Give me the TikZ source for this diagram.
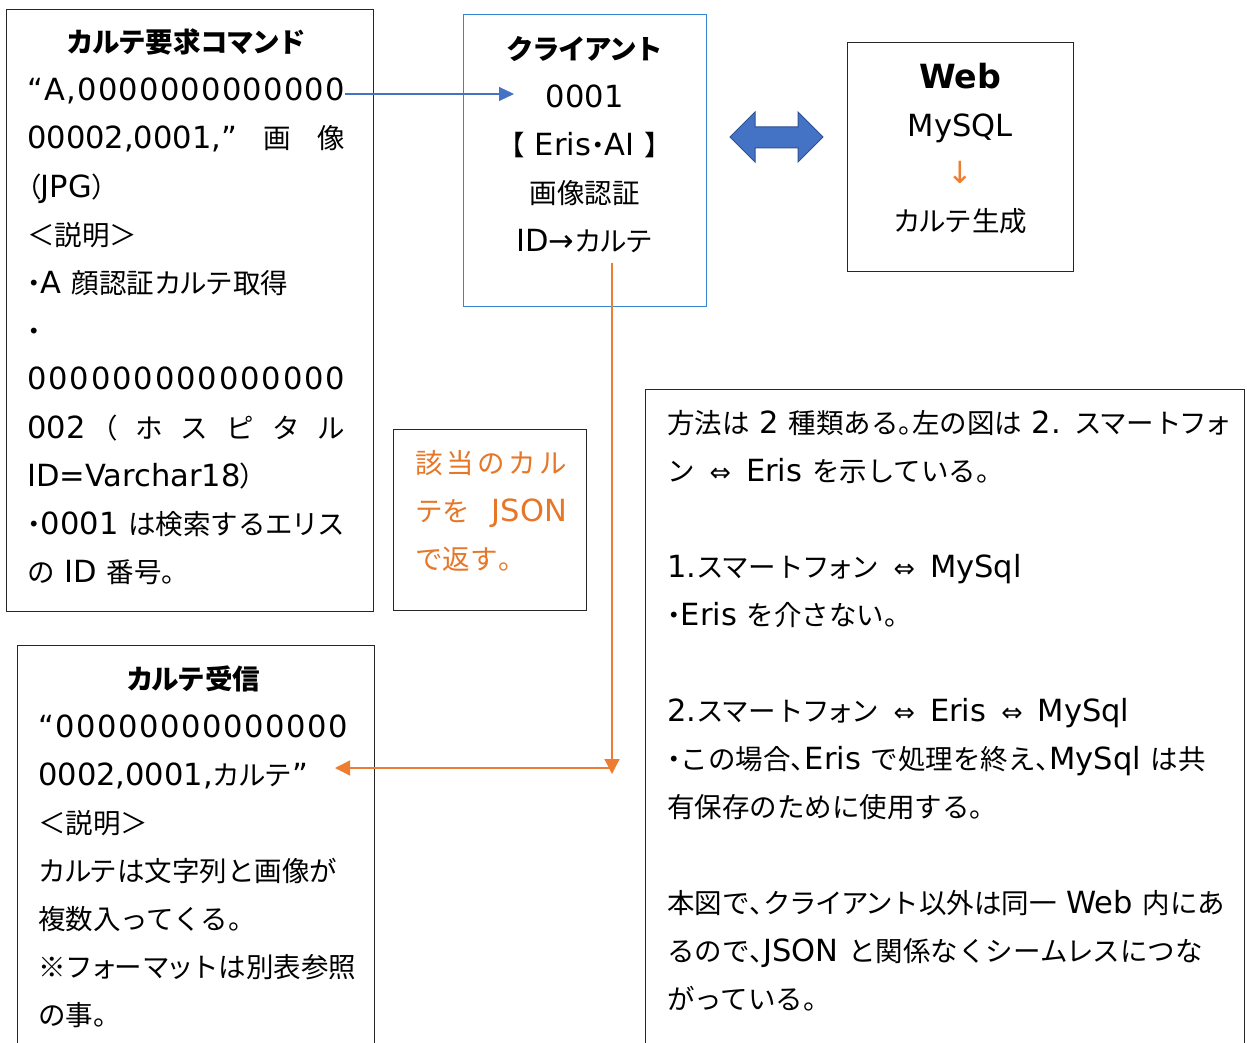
\documentclass[tikz,border=0pt]{standalone}
\usepackage{fontspec}
\setmainfont{DejaVu Sans}[Scale=1.11]
\newfontfamily\laf{DejaVu Sans}[Scale=1.11]
\newfontfamily\jpf{Noto Sans CJK JP}
\newfontfamily\jphf{Noto Sans CJK JP}[RawFeature=+palt]
\newfontfamily\jpkf{Noto Sans CJK JP}[LetterSpace=-6]
\usetikzlibrary{arrows.meta}

\definecolor{cblue}{RGB}{52,132,210}
\definecolor{ablue}{RGB}{68,114,196}
\definecolor{adark}{RGB}{47,82,143}
\definecolor{orng}{RGB}{237,125,49}
\definecolor{otext}{RGB}{230,118,40}

% --- automatic font switching between Latin and Japanese ---
\newXeTeXintercharclass\cjkcls
\newXeTeXintercharclass\hlfcls
\newXeTeXintercharclass\kancls
\newcount\cc
\cc="3000
\loop \XeTeXcharclass\cc=\cjkcls \advance\cc 1 \ifnum\cc<"A000 \repeat
\cc="FF00
\loop \XeTeXcharclass\cc=\cjkcls \advance\cc 1 \ifnum\cc<"FFF0 \repeat
\cc="30A1
\loop \XeTeXcharclass\cc=\kancls \advance\cc 1 \ifnum\cc<"30FB \repeat
\XeTeXcharclass"203B=\cjkcls
\XeTeXcharclass"3001=\hlfcls
\XeTeXcharclass"3002=\hlfcls
\XeTeXcharclass"30FB=\hlfcls
\XeTeXcharclass"FF08=\hlfcls
\XeTeXcharclass"FF09=\hlfcls
\XeTeXcharclass"30A1=\hlfcls
\XeTeXcharclass"30A3=\hlfcls
\XeTeXcharclass"30A5=\hlfcls
\XeTeXcharclass"30A7=\hlfcls
\XeTeXcharclass"30A9=\hlfcls
\XeTeXcharclass"30C3=\hlfcls
\XeTeXcharclass"30E3=\hlfcls
\XeTeXcharclass"30E5=\hlfcls
\XeTeXcharclass"30E7=\hlfcls
\XeTeXcharclass"201C=0
\XeTeXcharclass"201D=0
\XeTeXcharclass"2018=0
\XeTeXcharclass"2019=0
\XeTeXcharclass"00B7=0
\XeTeXcharclass"2192=0
\XeTeXcharclass"2193=0
\XeTeXcharclass"21D4=0
% into CJK
\XeTeXinterchartoks 0 \cjkcls = {\jpf}
\XeTeXinterchartoks 4095 \cjkcls = {\jpf}
\XeTeXinterchartoks \hlfcls \cjkcls = {\jpf}
\XeTeXinterchartoks \kancls \cjkcls = {\jpf}
% into half/proportional
\XeTeXinterchartoks 0 \hlfcls = {\jphf}
\XeTeXinterchartoks 4095 \hlfcls = {\jphf}
\XeTeXinterchartoks \cjkcls \hlfcls = {\jphf}
\XeTeXinterchartoks \kancls \hlfcls = {\jphf}
% into katakana
\XeTeXinterchartoks 0 \kancls = {\jpkf}
\XeTeXinterchartoks 4095 \kancls = {\jpkf}
\XeTeXinterchartoks \cjkcls \kancls = {\jpkf}
\XeTeXinterchartoks \hlfcls \kancls = {\jpkf}
% back to Latin
\XeTeXinterchartoks \cjkcls 0 = {\laf}
\XeTeXinterchartoks \hlfcls 0 = {\laf}
\XeTeXinterchartoks \kancls 0 = {\laf}
\XeTeXinterchartoks 4095 0 = {\laf}
\XeTeXinterchartoks \cjkcls 4095 = {\laf}
\XeTeXinterchartoks \hlfcls 4095 = {\laf}
\XeTeXinterchartoks \kancls 4095 = {\laf}

\makeatletter
\newcommand\jst[2]{\hbox to #1{\@tfor\jst@c:=#2\do{\jst@c\hfil}\unskip}}
\makeatother
\newcommand\Lc[1]{\hbox to\hsize{\hfil#1\hfil}}
\newcommand\Ll[1]{\hbox{#1}}
\newcommand\tblock[3]{\vtop{\hsize=#1\baselineskip=#2\lineskiplimit=-100pt\lineskip=0pt #3}}
\newcommand\eqv{\hskip 15pt{\fontsize{23}{23}\selectfont ⇔}\hskip 15pt}

\tikzset{
  frame/.style={draw=black!85, line width=1.2pt, inner sep=0pt, anchor=north west},
  txt/.style={inner sep=0pt, anchor=base west, font=\fontsize{27.5}{48}\selectfont},
  bluearr/.style={draw=ablue, line width=1.1pt, -{Triangle[length=15pt,width=14pt]}},
  orarr/.style={draw=orng, line width=1.3pt, -{Triangle[length=15pt,width=15pt]}},
}

\begin{document}
\XeTeXinterchartokenstate=1
\begin{tikzpicture}[x=1pt,y=-1pt]
\useasboundingbox (0,0) rectangle (1247,1043);
\clip (0,0) rectangle (1247,1043);

% frames
\node[frame, minimum width=367pt, minimum height=602pt] (req) at (6,9) {};
\node[frame, draw=cblue, minimum width=243pt, minimum height=292pt] (client) at (463,14) {};
\node[frame, minimum width=226pt, minimum height=229pt] (web) at (847,42) {};
\node[frame, minimum width=193pt, minimum height=181pt] (json) at (393,429) {};
\node[frame, minimum width=599pt, minimum height=700pt] (note) at (645,389) {};
\node[frame, minimum width=357pt, minimum height=450pt] (recv) at (17,645) {};

% request command text
\node[txt] (reqtext) at (27,52.5) {\tblock{318pt}{48.2pt}{%
\Lc{\bfseries カルテ要求コマンド}%
\Ll{\jst{318pt}{“A,0000000000000}}%
\Ll{\hbox to 318pt{00002,0001,”\hfil 画\hfil 像}}%
\Ll{（JPG）}%
\Ll{＜説明＞}%
\Ll{・A 顔認証カルテ取得}%
\Ll{・}%
\Ll{\jst{318pt}{000000000000000}}%
\Ll{\hbox to 318pt{002\hfil （\hfil ホ\hfil ス\hfil ピ\hfil タ\hfil ル}}%
\Ll{ID=Varchar18）}%
\Ll{・0001 は検索するエリス}%
\Ll{の ID 番号。}}};

% client text
\node[txt] (clienttext) at (463,59.5) {\tblock{243pt}{48pt}{%
\Lc{\bfseries クライアント}%
\Lc{0001}%
\Lc{【 Eris・AI 】}%
\Lc{画像認証}%
\Lc{ID→カルテ}}};

% web text
\node[txt] (webtext) at (847,89) {\tblock{226pt}{47.5pt}{%
\Lc{\fontsize{30}{47.5}\selectfont\bfseries Web}%
\Lc{MySQL}%
\Lc{\color{orng}↓}%
\Lc{カルテ生成}}};

% json text
\node[txt, text=otext] (jsontext) at (415,473.5) {\tblock{152pt}{48pt}{%
\Ll{\hbox to 152pt{該\hfil 当\hfil の\hfil カ\hfil ル}}%
\Ll{\hbox to 152pt{テを\hfil JSON}}%
\Ll{で返す。}}};

% receive text
\node[txt] (recvtext) at (38,689.5) {\tblock{310pt}{48pt}{%
\Lc{\bfseries カルテ受信}%
\Ll{\jst{310pt}{“00000000000000}}%
\Ll{0002,0001,カルテ”}%
\Ll{＜説明＞}%
\Ll{カルテは文字列と画像が}%
\Ll{複数入ってくる。}%
\Ll{※フォーマットは別表参照}%
\Ll{の事。}}};

% note text
\node[txt] (notetext) at (667,433.5) {\tblock{560pt}{48pt}{%
\Ll{方法は 2 種類ある。左の図は 2. スマートフォ}%
\Ll{ン\eqv Eris を示している。}%
\Ll{}%
\Ll{1.スマートフォン\eqv MySql}%
\Ll{・Eris を介さない。}%
\Ll{}%
\Ll{2.スマートフォン\eqv Eris\eqv MySql}%
\Ll{・この場合、Eris で処理を終え、MySql は共}%
\Ll{有保存のために使用する。}%
\Ll{}%
\Ll{本図で、クライアント以外は同一 Web 内にあ}%
\Ll{るので、JSON と関係なくシームレスにつな}%
\Ll{がっている。}}};

% double arrow between client and web
\draw[fill=ablue, draw=adark, line width=1pt, line join=miter]
  (730,137) -- (755,112) -- (755,127) -- (798,127) -- (798,112) -- (823,137)
  -- (798,162) -- (798,148) -- (755,148) -- (755,162) -- cycle;

% connectors
\coordinate (bS) at (345,94);
\coordinate (bE) at (514,94);
\draw[bluearr] (bS) -- (bE);
\coordinate (oS) at (612,263);
\coordinate (oE) at (612,774);
\coordinate (oJ) at (612,768);
\coordinate (oL) at (335,768);
\draw[orarr] (oS) -- (oE);
\draw[orarr] (oJ) -- (oL);
\end{tikzpicture}
\end{document}
